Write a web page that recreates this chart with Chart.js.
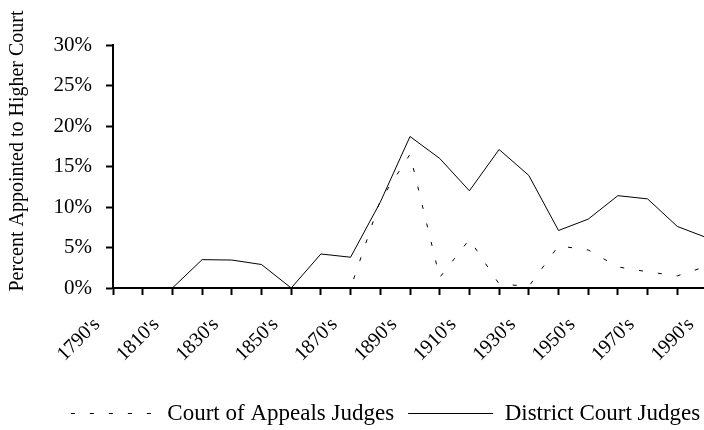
<!DOCTYPE html>
<html>
<head>
<meta charset="utf-8">
<script src="https://cdn.jsdelivr.net/npm/chart.js@4.4.3/dist/chart.umd.min.js"></script>
<style>
  html, body { margin: 0; padding: 0; background: #fff; overflow: hidden; }
  #wrap { width: 720px; height: 430px; }
</style>
</head>
<body>
<div id="wrap"><canvas id="chart" width="720" height="430"></canvas></div>
<script>
    'use strict';

    // decades on the category axis (only every other one is labelled)
    const decades = [
        "1790's", "1800's", "1810's", "1820's", "1830's", "1840's", "1850's",
        "1860's", "1870's", "1880's", "1890's", "1900's", "1910's", "1920's",
        "1930's", "1940's", "1950's", "1960's", "1970's", "1980's", "1990's",
    ];

    // percent appointed to a higher court
    const appealsJudges = [0, 0, 0, 0, 0, 0, 0, 0, 0, 10.8, 16.5, 1.3, 6.0, 0.5, 0.2, 5.2, 4.7, 2.6, 2.0, 1.5, 2.7];
    const districtJudges = [0, 0, 0, 3.5, 3.45, 2.9, 0, 4.2, 3.8, 10.6, 18.7, 16.0, 12.0, 17.1, 13.9, 7.1, 8.5, 11.4, 11.0, 7.6, 6.2];

    const yTicks = [0, 5, 10, 15, 20, 25, 30];

    const FONT = "'Liberation Serif', 'Times New Roman', serif";

    // rotated axis title on the left
    const yTitlePlugin = {
        id: 'yTitle',
        afterDraw(chart) {
            const ctx = chart.ctx;
            ctx.save();
            ctx.translate(18, 151);
            ctx.rotate(-Math.PI / 2);
            ctx.font = '20px ' + FONT;
            ctx.fillStyle = '#000';
            ctx.textAlign = 'center';
            ctx.textBaseline = 'middle';
            ctx.fillText('Percent Appointed to Higher Court', 0, 0);
            ctx.restore();
        },
    };

    // the legend sits a little right of centre and low on the page
    const legendShiftPlugin = {
        id: 'legendShift',
        afterLayout(chart) {
            const legend = chart.legend;
            if (!legend) return;
            legend.left += 32;
            legend.right += 32;
            legend.top += 5;
            legend.bottom += 5;
        },
    };

    const ctx = document.getElementById('chart').getContext('2d');
    new Chart(ctx, {
        type: 'line',
        data: {
            labels: decades,
            datasets: [
                {
                    label: 'Court of Appeals Judges',
                    data: appealsJudges,
                    borderColor: '#000',
                    backgroundColor: '#000',
                    borderWidth: 1,
                    borderDash: [4, 15],
                    pointRadius: 0,
                    tension: 0,
                    fill: false,
                },
                {
                    label: 'District Court Judges',
                    data: districtJudges,
                    borderColor: '#000',
                    backgroundColor: '#000',
                    borderWidth: 1,
                    pointRadius: 0,
                    tension: 0,
                    fill: false,
                },
            ],
        },
        options: {
            responsive: false,
            animation: false,
            layout: {
                padding: { left: 0, right: 13, top: 45, bottom: 0 },
            },
            plugins: {
                legend: {
                    position: 'bottom',
                    labels: {
                        color: '#000',
                        font: { family: FONT, size: 23 },
                        usePointStyle: true,
                        pointStyle: 'line',
                        pointStyleWidth: 85,
                        padding: 14,
                        generateLabels: (chart) => {
                            const items = Chart.defaults.plugins.legend.labels.generateLabels(chart);
                            items.forEach((item, i) => {
                                item.lineDash = chart.data.datasets[i].borderDash || [];
                                item.lineWidth = 1;
                                item.strokeStyle = '#000';
                            });
                            return items;
                        },
                    },
                },
                tooltip: { enabled: false },
            },
            scales: {
                x: {
                    offset: false,
                    grid: {
                        drawOnChartArea: false,
                        drawTicks: true,
                        tickLength: 7,
                        tickWidth: 2,
                        tickColor: '#000',
                        color: '#000',
                    },
                    border: { display: true, color: '#000', width: 2 },
                    ticks: {
                        autoSkip: false,
                        maxRotation: 45,
                        minRotation: 45,
                        labelOffset: -16,
                        color: '#000',
                        font: { family: FONT, size: 20 },
                        padding: 18,
                        callback: (value, index) => (index % 2 === 0 ? decades[index] : ''),
                    },
                    afterFit: (scale) => {
                        scale.paddingLeft = 0;
                        scale.paddingRight = 0;
                        const legendH = scale.chart.legend ? scale.chart.legend.height : 50;
                        scale.height = 430 - legendH - 288;
                    },
                },
                y: {
                    min: 0,
                    max: 30,
                    afterBuildTicks: (scale) => {
                        scale.ticks = yTicks.map((v) => ({ value: v }));
                    },
                    grid: {
                        drawOnChartArea: false,
                        drawTicks: true,
                        tickLength: 7,
                        tickWidth: 2,
                        tickColor: '#000',
                        color: '#000',
                    },
                    border: { display: true, color: '#000', width: 2 },
                    ticks: {
                        color: '#000',
                        font: { family: FONT, size: 21 },
                        padding: 14,
                        callback: (value) => value + '%',
                    },
                    afterFit: (scale) => {
                        scale.width = 113;
                    },
                },
            },
        },
        plugins: [yTitlePlugin, legendShiftPlugin],
    });
</script>
</body>
</html>
